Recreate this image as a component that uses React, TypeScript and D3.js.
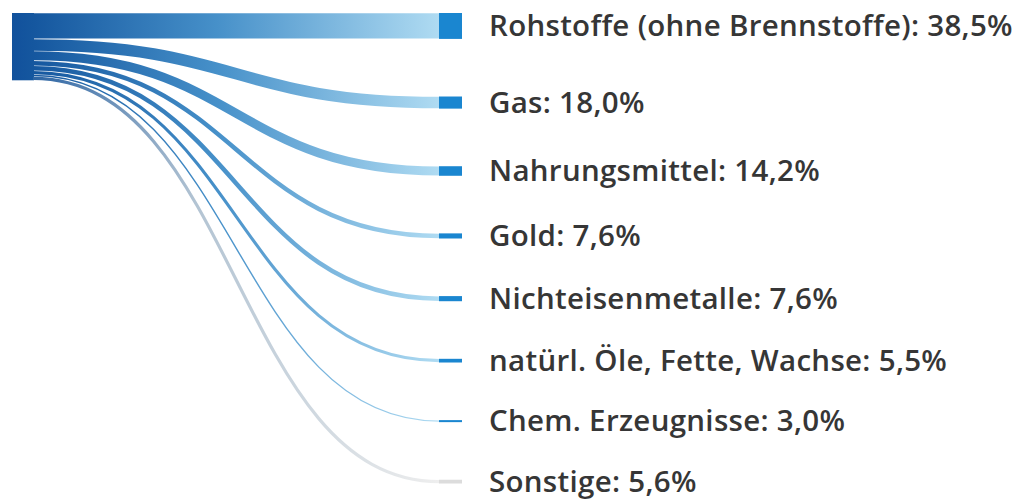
import React from "react";
import * as d3 from "d3";

const categories = [
  "Rohstoffe (ohne Brennstoffe)",
  "Gas",
  "Nahrungsmittel",
  "Gold",
  "Nichteisenmetalle",
  "natürl. Öle, Fette, Wachse",
  "Chem. Erzeugnisse",
  "Sonstige",
];
const values = [38.5, 18.0, 14.2, 7.6, 7.6, 5.5, 3.0, 5.6];
const greyCategory = "Sonstige";

const W = 1019;
const H = 500;
const top = 13;
const bottom = 483.5;
const nodePadding = 57.6;
const srcX0 = 12, srcX1 = 34;
const tgtX0 = 439, tgtX1 = 462;
const labelX = 489;

export default function App() {
  const total = d3.sum(values);
  const n = values.length;
  const k = (bottom - top - (n - 1) * nodePadding) / total;
  const h = d3.scaleLinear().domain([0, total]).range([0, total * k]);

  let yT = top;
  let yS = top;
  const nodes = categories.map((c, i) => {
    const hh = h(values[i]);
    const node = { name: c, value: values[i], y0: yT, y1: yT + hh, sy0: yS, sy1: yS + hh };
    yT += hh + nodePadding;
    yS += hh;
    return node;
  });
  const srcBottom = yS;
  const link = d3.linkHorizontal<any, any>().x((d: any) => d[0]).y((d: any) => d[1]);
  const fmt = (v: number) => d3.format(".1f")(v).replace(".", ",") + "%";

  return (
    <svg width={W} height={H} style={{ position: "absolute", left: 0, top: 0 }}>
      <defs>
        <linearGradient id="gBlue" gradientUnits="userSpaceOnUse" x1={srcX1} x2={tgtX0} y1={0} y2={0}>
          <stop offset="0%" stopColor="#15579f" />
          <stop offset="45%" stopColor="#4690c9" />
          <stop offset="100%" stopColor="#afdbf2" />
        </linearGradient>
        <linearGradient id="gGrey" gradientUnits="userSpaceOnUse" x1={srcX1} x2={tgtX0} y1={0} y2={0}>
          <stop offset="0%" stopColor="#2c64a3" />
          <stop offset="40%" stopColor="#b3c4d3" />
          <stop offset="100%" stopColor="#eeeeee" />
        </linearGradient>
        <linearGradient id="gSrc" gradientUnits="userSpaceOnUse" x1={srcX0} x2={srcX1} y1={0} y2={0}>
          <stop offset="0%" stopColor="#11519c" />
          <stop offset="100%" stopColor="#15579f" />
        </linearGradient>
      </defs>
      <rect x={srcX0} y={top} width={srcX1 - srcX0} height={srcBottom - top} fill="url(#gSrc)" />
      {nodes
        .slice()
        .reverse()
        .map((nd) => (
          <path
            key={"l" + nd.name}
            d={link({ source: [srcX1 - 1, (nd.sy0 + nd.sy1) / 2], target: [tgtX0 + 0.5, (nd.y0 + nd.y1) / 2] }) as string}
            fill="none"
            stroke={nd.name === greyCategory ? "url(#gGrey)" : "url(#gBlue)"}
            strokeWidth={Math.max(1, nd.y1 - nd.y0 - 0.6)}
          />
        ))}
      {nodes.map((nd) => (
        <rect
          key={"n" + nd.name}
          x={tgtX0}
          y={nd.y0}
          width={tgtX1 - tgtX0}
          height={Math.max(1.2, nd.y1 - nd.y0)}
          fill={nd.name === greyCategory ? "#dcdcdc" : "#1a86d0"}
        />
      ))}
      {nodes.map((nd) => (
        <text
          key={"t" + nd.name}
          x={labelX}
          y={(nd.y0 + nd.y1) / 2 - 1.5}
          dominantBaseline="central"
          fontFamily="'Open Sans', sans-serif"
          fontWeight={600}
          fontSize={29.5}
          letterSpacing={0.3}
          fill="#363636"
        >
          {nd.name + ": " + fmt(nd.value)}
        </text>
      ))}
    </svg>
  );
}
